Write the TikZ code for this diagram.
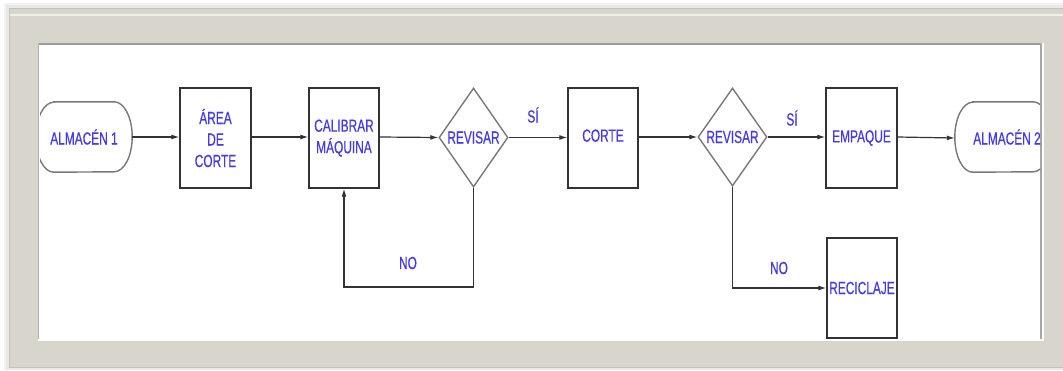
\documentclass[tikz,border=0pt]{standalone}
\usepackage{fontspec}
\newfontfamily\nf[FakeStretch=0.68,FakeBold=0.4]{Liberation Sans}
\usetikzlibrary{shapes.geometric,arrows.meta}
\definecolor{framegrey}{RGB}{216,214,204}
\definecolor{framedark}{RGB}{196,194,184}
\definecolor{txtblue}{RGB}{66,58,236}
\definecolor{linegrey}{RGB}{51,51,51}
\definecolor{diagrey}{RGB}{120,120,120}
\tikzset{
  lbl/.style={font=\nf\fontsize{17.5}{21.5}\selectfont, text=txtblue, align=center, inner sep=0pt},
  procbox/.style={draw=linegrey, line width=1.4pt, minimum width=71pt, minimum height=100pt, inner sep=0pt, lbl},
  decision/.style={diamond, draw=diagrey, line width=1.4pt, minimum width=69pt, minimum height=99pt, inner sep=0pt},
  term/.style={minimum width=96pt, minimum height=70pt, inner sep=0pt, lbl},
  conn/.style={draw=linegrey, line width=1.2pt, -{Latex[length=8pt,width=5pt]}},
  termline/.style={draw=diagrey, line width=1.4pt},
}
\newcommand{\termshape}[1]{%
  \draw[termline] ([xshift=18pt]#1.north west) -- ([xshift=-18pt]#1.north east)
    arc[start angle=90, end angle=-90, x radius=18pt, y radius=35pt]
    -- ([xshift=18pt]#1.south west)
    arc[start angle=270, end angle=90, x radius=18pt, y radius=35pt] -- cycle;}
\begin{document}
\begin{tikzpicture}[x=1pt,y=-1pt]
\useasboundingbox (0,0) rectangle (1063,370);
% background and frame
\fill[white] (0,0) rectangle (1063,370);
\fill[black!5] (4,3) rectangle (1063,370);
\fill[black!9] (6,5) rectangle (1063,370);
\fill[framegrey] (9,8) rectangle (1063,368);
\draw[framedark, line width=1pt] (9,8.5) -- (1063,8.5);
\draw[framedark, line width=1pt] (9.5,8) -- (9.5,368);
\draw[framedark, line width=1pt] (9,367.5) -- (1063,367.5);
\draw[white!60!framegrey, line width=1.2pt] (10,15) -- (1063,15);
\fill[white] (38,43) rectangle (1042,339);
\draw[black!38, line width=1.5pt] (38,43.8) -- (1042,43.8);
\draw[black!30, line width=1.2pt] (38.6,43) -- (38.6,339);
\draw[black!35, line width=1.5pt] (1041.2,43) -- (1041.2,339);
\draw[white, line width=1.2pt] (1043,43) -- (1043,340) -- (38,340);
\begin{scope}
\clip (40,45) rectangle (1040,338);
% nodes
\node[term] (a1) at (84,137) {ALMACÉN 1};
\termshape{a1}
\node[procbox] (b1) at (215.5,138) {ÁREA\\DE\\CORTE};
\node[procbox, minimum width=70pt] (b2) at (344,138) {CALIBRAR\\MÁQUINA};
\node[decision] (d1) at (473.5,137.5) {};
\node[lbl] (t1) at (d1.center) {REVISAR};
\node[procbox, minimum width=70pt] (b3) at (603,138) {\raisebox{5pt}{CORTE}};
\node[decision, minimum height=98pt] (d2) at (732.5,137) {};
\node[lbl] (t2) at (d2.center) {REVISAR};
\node[procbox] (b4) at (861.5,138) {\raisebox{2pt}{EMPAQUE}};
\node[term] (a2) at (1003,137) {\hspace*{8pt}ALMACÉN 2};
\termshape{a2}
\node[procbox, minimum width=70pt] (b5) at (862,288) {RECICLAJE};
% corner coordinates
\coordinate (c1) at (d1.south |- 0,287);
\coordinate (c2) at (b2.south |- 0,287);
\coordinate (c3) at (d2.south |- b5.west);
% connectors
\draw[conn] (a1.east) -- (a1.east -| b1.west);
\draw[conn] (b1.east |- 0,137) -- (b2.west |- 0,137);
\draw[conn] (b2.east |- 0,137) -- (d1.west);
\draw[conn] (d1.east) -- (d1.east -| b3.west);
\draw[conn] (b3.east |- 0,137) -- (d2.west);
\draw[conn] (d2.east) -- (d2.east -| b4.west);
\draw[conn] (b4.east |- 0,137) -- (b4.east -| a2.west);
\draw[conn] (d1.south) -- (c1) -- (c2) -- (b2.south);
\draw[conn] (d2.south) -- (c3) -- (b5.west);
% labels
\node[lbl] (s1) at (533,115) {SÍ};
\node[lbl] (s2) at (792,118) {SÍ};
\node[lbl] (n1) at (408,263) {NO};
\node[lbl] (n2) at (779,268) {NO};
\end{scope}
\end{tikzpicture}
\end{document}
